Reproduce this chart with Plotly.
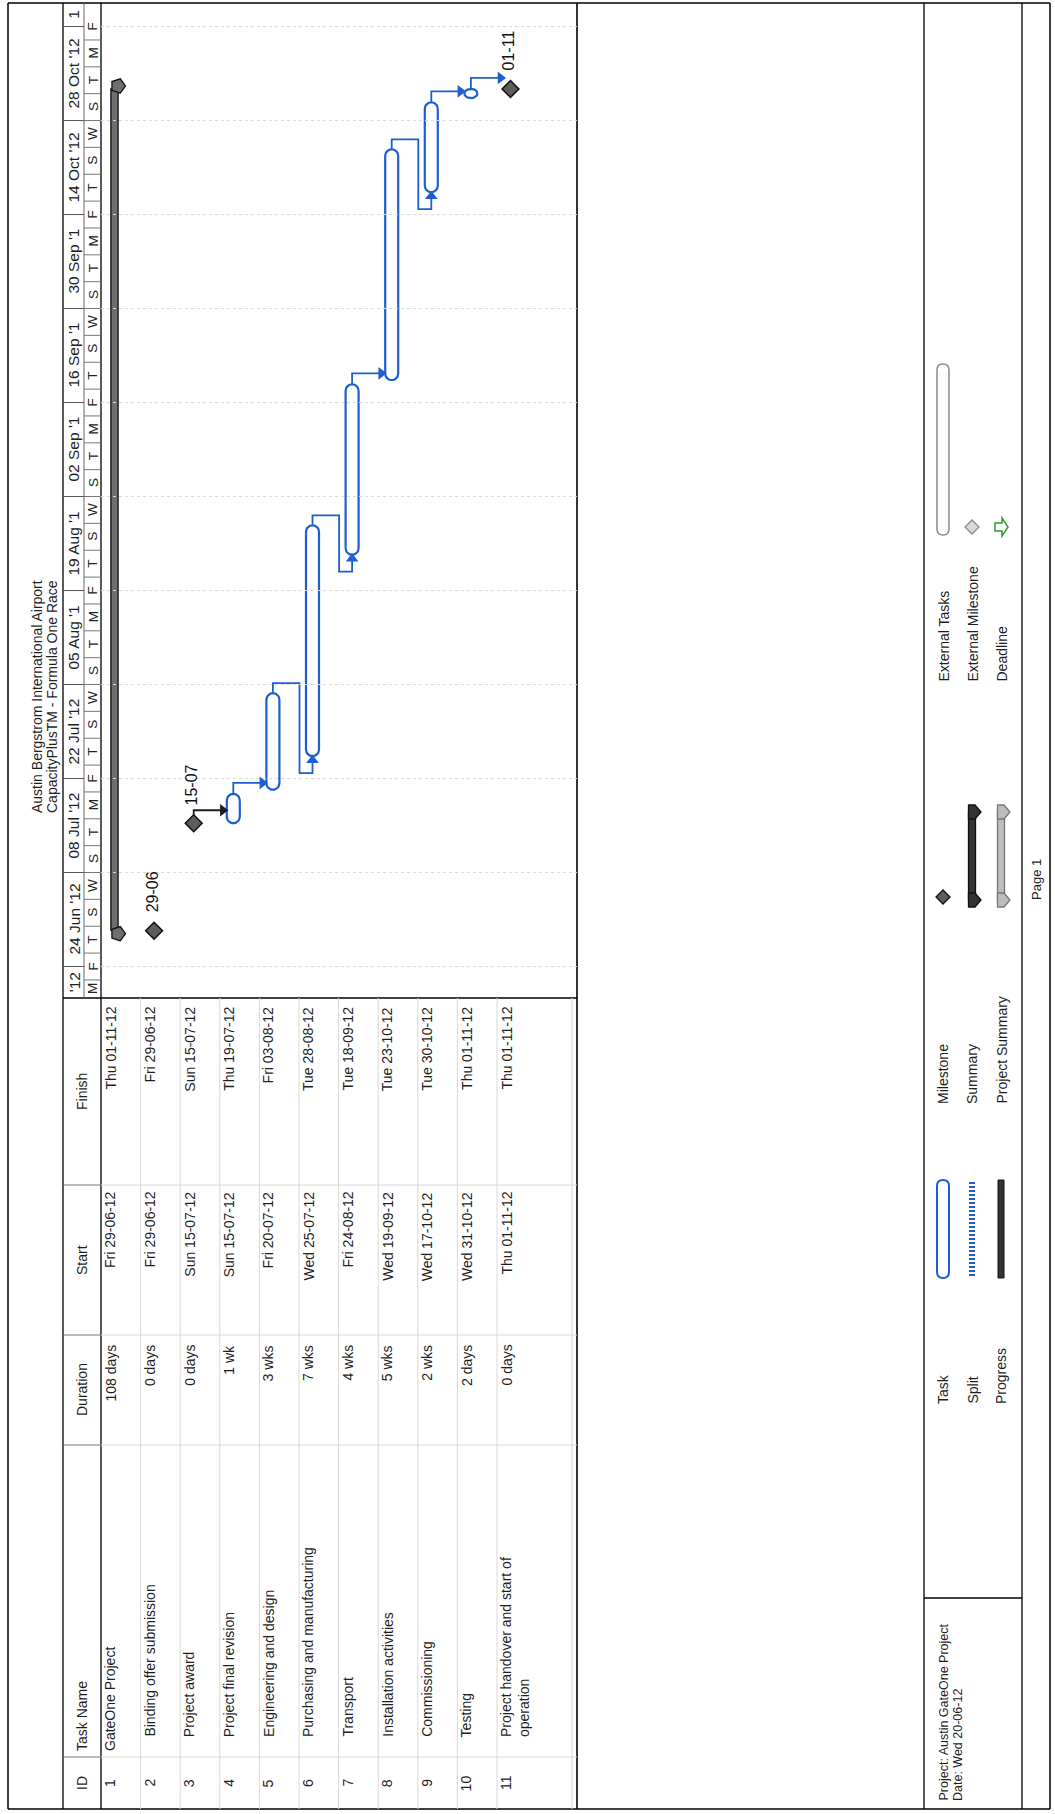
import math
import pandas as pd
import plotly.graph_objects as go

W, H = 1055, 1814

# ---------------- data ----------------
task_ids = [1, 2, 3, 4, 5, 6, 7, 8, 9, 10, 11]
task_names = ["GateOne Project", "Binding offer submission", "Project award",
              "Project final revision", "Engineering and design",
              "Purchasing and manufacturing", "Transport", "Installation activities",
              "Commissioning", "Testing", "Project handover and start of<br>operation"]
task_outline = [0, 1, 1, 1, 1, 1, 1, 1, 1, 1, 1]
task_types = ["summary", "milestone", "milestone", "task", "task", "task",
              "task", "task", "task", "task", "milestone"]
duration_labels = ["108 days", "0 days", "0 days", "1 wk", "3 wks", "7 wks",
                   "4 wks", "5 wks", "2 wks", "2 days", "0 days"]
start_labels = ["Fri 29-06-12", "Fri 29-06-12", "Sun 15-07-12", "Sun 15-07-12",
                "Fri 20-07-12", "Wed 25-07-12", "Fri 24-08-12", "Wed 19-09-12",
                "Wed 17-10-12", "Wed 31-10-12", "Thu 01-11-12"]
finish_labels = ["Thu 01-11-12", "Fri 29-06-12", "Sun 15-07-12", "Thu 19-07-12",
                 "Fri 03-08-12", "Tue 28-08-12", "Tue 18-09-12", "Tue 23-10-12",
                 "Tue 30-10-12", "Thu 01-11-12", "Thu 01-11-12"]
start_times = ["2012-06-29 08:00", "2012-06-29 08:00", "2012-07-15 08:00",
               "2012-07-15 08:00", "2012-07-20 08:00", "2012-07-25 08:00",
               "2012-08-24 08:00", "2012-09-19 08:00", "2012-10-17 08:00",
               "2012-10-31 08:00", "2012-11-01 17:00"]
finish_times = ["2012-11-01 17:00", "2012-06-29 08:00", "2012-07-15 08:00",
                "2012-07-19 17:00", "2012-08-03 17:00", "2012-08-28 17:00",
                "2012-09-18 17:00", "2012-10-23 17:00", "2012-10-30 17:00",
                "2012-11-01 17:00", "2012-11-01 17:00"]
milestone_labels = ["", "29-06", "15-07", "", "", "", "", "", "", "", "01-11"]
link_pred = [3, 4, 5, 6, 7, 8, 9, 10]
link_succ = [4, 5, 6, 7, 8, 9, 10, 11]

major_dates = ["2012-06-10", "2012-06-24", "2012-07-08", "2012-07-22", "2012-08-05",
               "2012-08-19", "2012-09-02", "2012-09-16", "2012-09-30", "2012-10-14",
               "2012-10-28", "2012-11-11", "2012-11-25"]
major_labels = ["'12", "24 Jun '12", "08 Jul '12", "22 Jul '12", "05 Aug '1",
                "19 Aug '1", "02 Sep '1", "16 Sep '1", "30 Sep '1", "14 Oct '12",
                "28 Oct '12", "1"]
minor_start = "2012-06-18"
minor_letters = list("MFTSWST" * 5 + "MF")

title_lines = ["Austin Bergstrom International Airport",
               "CapacityPlusTM - Formula One Race"]
legend_col1 = ["Task", "Split", "Progress"]
legend_col2 = ["Milestone", "Summary", "Project Summary"]
legend_col3 = ["External Tasks", "External Milestone", "Deadline"]
project_info = ["Project: Austin GateOne Project", "Date: Wed 20-06-12"]

# ---------------- geometry / style ----------------
FONT = "Arial, Liberation Sans, sans-serif"
BLUE = "#1d5fd0"
INK = "#1e1e1e"
X_ROW1 = 114.5      # px of row-1 bar centre
RW = 39.6           # px per row
ROW_TOP0 = 101.0    # px where row 1 starts
REF = pd.Timestamp("2012-06-24")
Y_REF = 966.5       # px of REF date
DAYPX = 6.714       # px per day
GANTT_TOP, GANTT_BOT = 3.0, 998.0
TABLE_RIGHT = 577.0
HDR_L, HDR_MID, HDR_R = 63.0, 84.0, 101.0
FOOT_DIV = 1598.0


def px2row(px):
    return 1 + (px - X_ROW1) / RW


def py2day(py):
    return (Y_REF - py) / DAYPX


def day2ts(d):
    return REF + pd.Timedelta(days=d)


def ts2day(t):
    return (pd.Timestamp(t) - REF).total_seconds() / 86400.0


def xp(px):
    return px / W


def yp(py):
    return 1 - py / H


fig = go.Figure()
shapes = []
ann = []


def line_px(x0, y0, x1, y1, color="#000", width=1.2, dash=None):
    d = dict(type="line", xref="paper", yref="paper", x0=xp(x0), y0=yp(y0),
             x1=xp(x1), y1=yp(y1), line=dict(color=color, width=width))
    if dash:
        d["line"]["dash"] = dash
    shapes.append(d)


def text_px(x, y, s, size=14, xanchor="center", yanchor="middle", color=INK,
            align="left", angle=-90, xref="paper", yref="paper"):
    ann.append(dict(x=x, y=y, xref=xref, yref=yref, text=s, showarrow=False,
                    textangle=angle, xanchor=xanchor, yanchor=yanchor, align=align,
                    font=dict(family=FONT, size=size, color=color), borderpad=0))


# ---------------- frame & grid lines ----------------
line_px(8, 3, 1050, 3, width=1.5)
line_px(8, 1809, 1050, 1809, width=1.5)
line_px(8, 3, 8, 1809, width=1.5)
line_px(1050, 3, 1050, 1809, width=1.5)
line_px(HDR_L, 3, HDR_L, 1809, width=1.3)
line_px(HDR_R, 3, HDR_R, 1809, width=1.3)
line_px(TABLE_RIGHT, 3, TABLE_RIGHT, 1809, width=1.6)
line_px(924, 3, 924, 1809, width=1.3)
line_px(1022, 3, 1022, 1809, width=1.3)
line_px(924, FOOT_DIV, 1022, FOOT_DIV, width=1.3)
line_px(HDR_L, GANTT_BOT, TABLE_RIGHT, GANTT_BOT, width=1.3)
line_px(HDR_MID, 3, HDR_MID, GANTT_BOT, color="#666", width=1)

# table columns
col_bounds = [1185, 1335, 1445, 1757]
for cb in col_bounds:
    line_px(HDR_L, cb, HDR_R, cb, color="#777", width=1)
    line_px(HDR_R, cb, TABLE_RIGHT, cb, color="#d8d8d8", width=1)
# table rows
row_starts = [ROW_TOP0 + RW * i for i in range(len(task_ids))]
for rs in row_starts[1:]:
    line_px(rs, GANTT_BOT, rs, 1809, color="#d8d8d8", width=1)
line_px(row_starts[-1] + 75, GANTT_BOT, row_starts[-1] + 75, 1809, color="#d8d8d8", width=1)

# ---------------- timescale ----------------
vis_lo = py2day(GANTT_BOT)
vis_hi = py2day(GANTT_TOP)
maj = [ts2day(d) for d in major_dates]
for i, lab in enumerate(major_labels):
    a, b = max(maj[i], vis_lo), min(maj[i + 1], vis_hi)
    if b <= a:
        continue
    text_px(xp((HDR_L + HDR_MID) / 2 + 0.5), day2ts((a + b) / 2), lab, size=15.5,
            yref="y", color="#222")
for d in maj:
    if vis_lo < d < vis_hi:
        shapes.append(dict(type="line", xref="paper", yref="y", x0=xp(HDR_L),
                           x1=xp(HDR_MID), y0=day2ts(d), y1=day2ts(d),
                           line=dict(color="#555", width=1)))
        shapes.append(dict(type="line", xref="paper", yref="y", x0=xp(HDR_R),
                           x1=xp(TABLE_RIGHT), y0=day2ts(d), y1=day2ts(d),
                           line=dict(color="#d9d9d9", width=1, dash="dot")))
m0 = ts2day(minor_start)
for i, let in enumerate(minor_letters):
    a0 = m0 + 4 * i
    a, b = max(a0, vis_lo), min(a0 + 4, vis_hi)
    if b - a > 1.2:
        text_px(xp((HDR_MID + HDR_R) / 2 + 0.5), day2ts((a + b) / 2), let, size=13.5,
                yref="y", color="#222")
    if vis_lo < a0 < vis_hi:
        shapes.append(dict(type="line", xref="paper", yref="y", x0=xp(HDR_MID),
                           x1=xp(HDR_R), y0=day2ts(a0), y1=day2ts(a0),
                           line=dict(color="#777", width=1)))

# ---------------- title ----------------
text_px(xp(37), yp(697), title_lines[0], size=14)
text_px(xp(52), yp(697), title_lines[1], size=14)

# ---------------- table ----------------
HX = xp(82)
text_px(HX, yp(1783), "ID", size=14)
text_px(HX, yp(1752), "Task Name", size=14, yanchor="bottom")
text_px(HX, yp(1390), "Duration", size=14)
text_px(HX, yp(1260), "Start", size=14)
text_px(HX, yp(1092), "Finish", size=14)

for i, tid in enumerate(task_ids):
    rs = row_starts[i]
    if "<br>" in task_names[i]:
        cx = rs + 18
    else:
        cx = rs + 9
    xr = px2row(cx)
    text_px(px2row(rs + 9), yp(1783), str(tid), size=14, xref="x")
    text_px(xr, yp(1752 - 14 * task_outline[i]), task_names[i], size=14,
            yanchor="bottom", xref="x")
    text_px(px2row(rs + 9), yp(1344), duration_labels[i], size=14, yanchor="top", xref="x")
    text_px(px2row(rs + 9), yp(1191), start_labels[i], size=14, yanchor="top", xref="x")
    text_px(px2row(rs + 9), yp(1006), finish_labels[i], size=14, yanchor="top", xref="x")

# ---------------- gantt bars ----------------
s_day = [ts2day(t) for t in start_times]
f_day = [ts2day(t) for t in finish_times]


def capsule(xc, d0, d1, half_px=6.5, n=14):
    h_px = (d1 - d0) * DAYPX
    r = min(half_px, h_px / 2)
    rx = half_px / RW
    ry = r / DAYPX
    yb, yt = d0 + ry, d1 - ry
    xs, ys = [], []
    for k in range(n + 1):
        th = math.pi * k / n
        xs.append(xc + rx * math.cos(th))
        ys.append(yt + ry * math.sin(th))
    for k in range(n + 1):
        th = math.pi + math.pi * k / n
        xs.append(xc + rx * math.cos(th))
        ys.append(yb + ry * math.sin(th))
    xs.append(xs[0])
    ys.append(ys[0])
    return xs, [day2ts(v) for v in ys]


for i, tid in enumerate(task_ids):
    t = task_types[i]
    if t == "task":
        xs, ys = capsule(tid, s_day[i], f_day[i])
        fig.add_trace(go.Scatter(x=xs, y=ys, mode="lines", fill="toself",
                                 fillcolor="white", line=dict(color=BLUE, width=2.2),
                                 hoverinfo="skip"))
    elif t == "summary":
        hw = 3.6 / RW
        fig.add_trace(go.Scatter(
            x=[tid - hw, tid + hw, tid + hw, tid - hw, tid - hw],
            y=[day2ts(v) for v in [s_day[i], s_day[i], f_day[i], f_day[i], s_day[i]]],
            mode="lines", fill="toself", fillcolor="#6e6e6e",
            line=dict(color="#111", width=1.3), hoverinfo="skip"))
        off = 3.0 / DAYPX
        fig.add_trace(go.Scatter(
            x=[tid + 3.5 / RW] * 2,
            y=[day2ts(s_day[i] - off), day2ts(f_day[i] + off)],
            mode="markers", marker=dict(symbol="pentagon", angle=90, size=15,
                                        color="#6e6e6e", line=dict(color="#111", width=1.3)),
            hoverinfo="skip"))

# ---------------- links ----------------
for p, s in zip(link_pred, link_succ):
    pi_, si = p - 1, s - 1
    fy, sy = f_day[pi_], s_day[si]
    pms = task_types[pi_] == "milestone"
    col = INK if pms else BLUE
    y0 = fy + (7 / DAYPX if pms else 0)
    if sy >= fy - 1e-9:
        yl = fy + (13 if pms else 11) / DAYPX
        tip = s - (6.0 if task_types[si] == "milestone" else 6.5) / RW
        ac = tip - 4 / RW
        xs = [p, p, ac]
        ys = [y0, yl, yl]
        sym, mx, my = "triangle-right", ac, yl
    else:
        yl = fy + 10 / DAYPX
        xm = s - 13 / RW
        ylow = sy - 17 / DAYPX
        ay = sy - 4 / DAYPX
        xs = [p, p, xm, xm, s, s]
        ys = [y0, yl, yl, ylow, ylow, ay]
        sym, mx, my = "triangle-up", s, ay
    fig.add_trace(go.Scatter(x=xs, y=[day2ts(v) for v in ys], mode="lines",
                             line=dict(color=col, width=1.8), hoverinfo="skip"))
    fig.add_trace(go.Scatter(x=[mx], y=[day2ts(my)], mode="markers",
                             marker=dict(symbol=sym, size=11, color=col,
                                         line=dict(width=0)), hoverinfo="skip"))

# ---------------- milestones ----------------
ms_x = [task_ids[i] for i in range(len(task_ids)) if task_types[i] == "milestone"]
ms_y = [day2ts(s_day[i]) for i in range(len(task_ids)) if task_types[i] == "milestone"]
fig.add_trace(go.Scatter(x=ms_x, y=ms_y, mode="markers",
                         marker=dict(symbol="diamond", size=13, color="#5c5c5c",
                                     line=dict(color="#111", width=1.5)),
                         hoverinfo="skip"))
for i in range(len(task_ids)):
    if milestone_labels[i]:
        text_px(task_ids[i] - 0.05, day2ts(s_day[i] + 17 / DAYPX), milestone_labels[i],
                size=16, yanchor="bottom", xref="x", yref="y", color="#111")

# ---------------- footer legend ----------------
LX = [943, 972, 1001]


def capsule_path(cx, ytop, ybot, hw):
    pts = [
        f"M {xp(cx - hw)} {yp(ybot - hw)}",
        f"L {xp(cx - hw)} {yp(ytop + hw)}",
        f"Q {xp(cx - hw)} {yp(ytop)} {xp(cx)} {yp(ytop)}",
        f"Q {xp(cx + hw)} {yp(ytop)} {xp(cx + hw)} {yp(ytop + hw)}",
        f"L {xp(cx + hw)} {yp(ybot - hw)}",
        f"Q {xp(cx + hw)} {yp(ybot)} {xp(cx)} {yp(ybot)}",
        f"Q {xp(cx - hw)} {yp(ybot)} {xp(cx - hw)} {yp(ybot - hw)} Z",
    ]
    return " ".join(pts)


def poly_path(pts):
    s = "M " + " L ".join(f"{xp(a)} {yp(b)}" for a, b in pts) + " Z"
    return s


def add_path(path, fill, color, width=1.3):
    shapes.append(dict(type="path", xref="paper", yref="paper", path=path,
                       fillcolor=fill, line=dict(color=color, width=width)))


def diamond(cx, cy, r, fill, color):
    add_path(poly_path([(cx, cy - r), (cx + r, cy), (cx, cy + r), (cx - r, cy)]), fill, color)


def summary_sym(cx, ytop, ybot, fill, color):
    add_path(poly_path([(cx - 3.5, ytop), (cx + 3.5, ytop), (cx + 3.5, ybot), (cx - 3.5, ybot)]),
             fill, color)
    for yy in (ytop, ybot):
        add_path(poly_path([(cx - 3.5, yy - 7), (cx + 3, yy - 7), (cx + 9, yy),
                            (cx + 3, yy + 7), (cx - 3.5, yy + 7)]), fill, color)


# column 1
add_path(capsule_path(LX[0], 1180, 1278, 6), "white", BLUE, 2)
line_px(LX[1], 1182, LX[1], 1276, color=BLUE, width=6, dash="2px,2px")
add_path(poly_path([(LX[2] - 3, 1180), (LX[2] + 3, 1180), (LX[2] + 3, 1278), (LX[2] - 3, 1278)]),
         "#333", "#111", 1)
for k, lab in enumerate(legend_col1):
    text_px(xp(LX[k]), yp(1405), lab, size=14, yanchor="bottom")
# column 2
diamond(LX[0], 897, 7, "#5c5c5c", "#111")
summary_sym(LX[1], 812, 900, "#333", "#111")
summary_sym(LX[2], 812, 900, "#bdbdbd", "#777")
for k, lab in enumerate(legend_col2):
    text_px(xp(LX[k]), yp(1105), lab, size=14, yanchor="bottom")
# column 3
add_path(capsule_path(LX[0], 364, 535, 6), "white", "#8a8a8a", 1.5)
diamond(LX[1], 527, 7, "#d9d9d9", "#8a8a8a")
add_path(poly_path([(LX[2] - 6, 523), (LX[2] + 1, 523), (LX[2] + 1, 518), (LX[2] + 7, 527),
                    (LX[2] + 1, 536), (LX[2] + 1, 531), (LX[2] - 6, 531)]),
         "white", "#2aa02a", 1.5)
for k, lab in enumerate(legend_col3):
    text_px(xp(LX[k]), yp(683), lab, size=14, yanchor="bottom")
# project info
text_px(xp(943), yp(1802), project_info[0], size=12.5, yanchor="bottom")
text_px(xp(958), yp(1802), project_info[1], size=12.5, yanchor="bottom")
text_px(xp(1037), yp(880), "Page 1", size=13)

# ---------------- layout ----------------
fig.update_layout(
    width=W, height=H, margin=dict(l=0, r=0, t=0, b=0),
    paper_bgcolor="white", plot_bgcolor="white", showlegend=False,
    xaxis=dict(range=[px2row(0), px2row(W)], visible=False, fixedrange=True),
    yaxis=dict(type="date", range=[day2ts(py2day(H)), day2ts(py2day(0))],
               visible=False, fixedrange=True),
    shapes=shapes, annotations=ann,
)
fig.write_html("out.html")
